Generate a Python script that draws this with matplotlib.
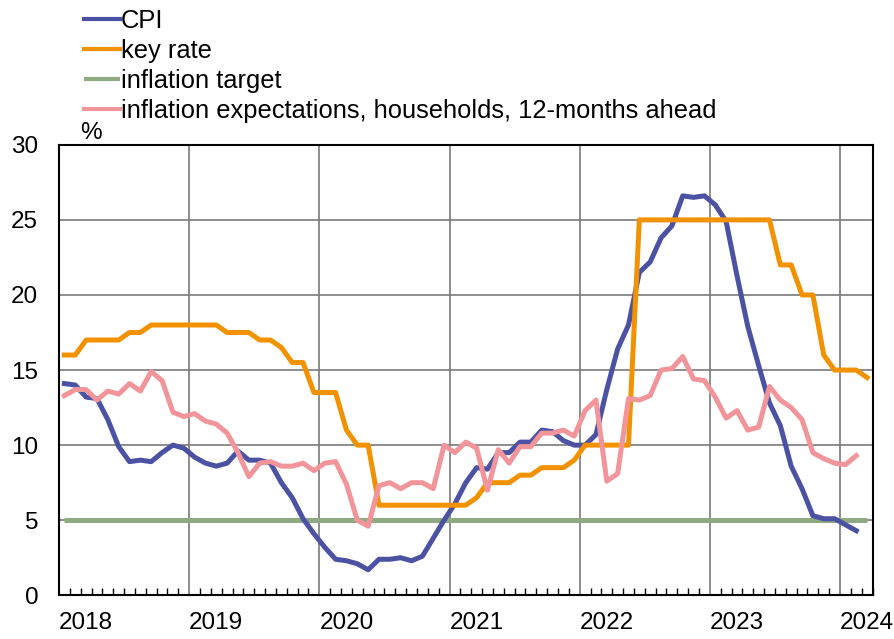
import matplotlib.pyplot as plt
import numpy as np

plt.rcParams['font.family'] = ['Liberation Sans', 'DejaVu Sans']

# monthly data, Jan 2018 - Mar 2024
years = ['2018', '2019', '2020', '2021', '2022', '2023', '2024']

cpi = [14.1, 14.0, 13.2, 13.1, 11.7, 9.9, 8.9, 9.0, 8.9, 9.5, 10.0, 9.8,
       9.2, 8.8, 8.6, 8.8, 9.6, 9.0, 9.0, 8.8, 7.5, 6.5, 5.1, 4.1,
       3.2, 2.4, 2.3, 2.1, 1.7, 2.4, 2.4, 2.5, 2.3, 2.6, 3.8, 5.0,
       6.1, 7.5, 8.5, 8.4, 9.5, 9.5, 10.2, 10.2, 11.0, 10.9, 10.3, 10.0,
       10.0, 10.7, 13.7, 16.4, 18.0, 21.5, 22.2, 23.8, 24.6, 26.6, 26.5, 26.6,
       26.0, 24.9, 21.3, 17.9, 15.3, 12.8, 11.3, 8.6, 7.1, 5.3, 5.1, 5.1,
       4.7, 4.3]

key_rate = [16, 16, 17, 17, 17, 17, 17.5, 17.5, 18, 18, 18, 18,
            18, 18, 18, 17.5, 17.5, 17.5, 17, 17, 16.5, 15.5, 15.5, 13.5,
            13.5, 13.5, 11, 10, 10, 6, 6, 6, 6, 6, 6, 6,
            6, 6, 6.5, 7.5, 7.5, 7.5, 8, 8, 8.5, 8.5, 8.5, 9,
            10, 10, 10, 10, 10, 25, 25, 25, 25, 25, 25, 25,
            25, 25, 25, 25, 25, 25, 22, 22, 20, 20, 16, 15,
            15, 15, 14.5]

target = [5, 5, 5, 5, 5, 5, 5, 5, 5, 5, 5, 5,
          5, 5, 5, 5, 5, 5, 5, 5, 5, 5, 5, 5,
          5, 5, 5, 5, 5, 5, 5, 5, 5, 5, 5, 5,
          5, 5, 5, 5, 5, 5, 5, 5, 5, 5, 5, 5,
          5, 5, 5, 5, 5, 5, 5, 5, 5, 5, 5, 5,
          5, 5, 5, 5, 5, 5, 5, 5, 5, 5, 5, 5,
          5, 5, 5]

expectations = [13.3, 13.7, 13.7, 13.0, 13.6, 13.4, 14.1, 13.6, 14.9, 14.3, 12.2, 11.9,
                12.1, 11.6, 11.4, 10.8, 9.5, 7.9, 8.8, 8.9, 8.6, 8.6, 8.8, 8.3,
                8.8, 8.9, 7.4, 5.0, 4.6, 7.3, 7.5, 7.1, 7.5, 7.5, 7.1, 10.0,
                9.5, 10.2, 9.8, 7.0, 9.7, 8.8, 9.9, 9.9, 10.8, 10.8, 11.0, 10.6,
                12.3, 13.0, 7.6, 8.1, 13.1, 13.0, 13.3, 15.0, 15.1, 15.9, 14.4, 14.3,
                13.2, 11.8, 12.3, 11.0, 11.2, 13.9, 13.0, 12.5, 11.7, 9.5, 9.1, 8.8,
                8.7, 9.3]

fig = plt.figure(figsize=(8.94, 6.39), dpi=100)
ax = fig.add_axes([0.066, 0.0684, 0.910, 0.705])

lw = 3.6
l3, = ax.plot(np.arange(len(target)) + 0.5, target, color='#8FAA82', lw=lw, solid_capstyle='butt', label='inflation target')
l1, = ax.plot(np.arange(len(cpi)) + 0.5, cpi, color='#4B52A3', lw=lw, label='CPI')
l2, = ax.plot(np.arange(len(key_rate)) + 0.5, key_rate, color='#F39200', lw=lw, label='key rate')
l4, = ax.plot(np.arange(len(expectations)) + 0.5, expectations, color='#F1959B', lw=lw, label='inflation expectations, households, 12-months ahead')

ax.set_xlim(0, 75)
ax.set_ylim(0, 30)
ax.set_yticks([0, 5, 10, 15, 20, 25, 30])
ax.set_xticks(np.arange(0, 73, 12))
ax.set_xticklabels(years, ha='left')
ax.set_xticks(np.arange(0, 76, 1), minor=True)
ax.tick_params(axis='both', which='major', length=0, labelsize=17.5)
ax.tick_params(axis='y', pad=15)
ax.tick_params(axis='x', pad=12)
ax.tick_params(axis='x', which='minor', direction='in', length=5, width=1, color='black')
ax.grid(True, which='major', color='#7a7a7a', lw=1.2)
ax.set_axisbelow(True)
for s in ax.spines.values():
    s.set_linewidth(1.5)
    s.set_color('black')

fig.text(91 / 894, 1 - 133 / 639, '%', fontsize=17.5, ha='center', va='center')

leg = fig.legend(handles=[l1, l2, l3, l4], loc='upper left', bbox_to_anchor=(84 / 894, 1 - 9 / 639),
                 frameon=False, fontsize=18.4, handlelength=1.4, handletextpad=0.05,
                 labelspacing=0.24, borderpad=0, borderaxespad=0)
for line in leg.get_lines():
    line.set_linewidth(3)

fig.savefig('out.png', dpi=100)
